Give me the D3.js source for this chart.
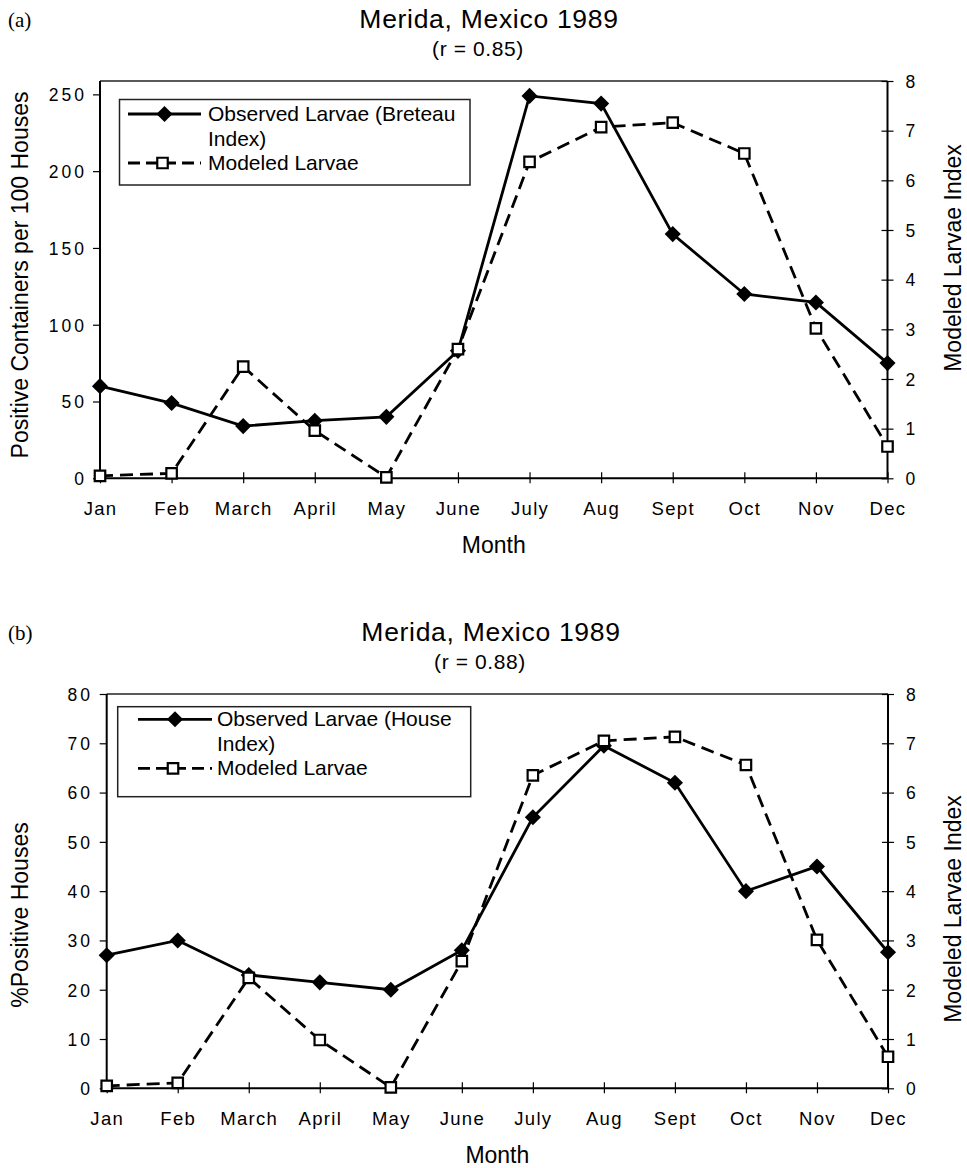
<!DOCTYPE html>
<html>
<head>
<meta charset="utf-8">
<script src="https://cdn.jsdelivr.net/npm/d3@7/dist/d3.min.js"></script>
<style>
  html, body { margin: 0; padding: 0; background: #fff; }
  svg { display: block; }
  text { font-family: "Liberation Sans", Arial, Helvetica, sans-serif; fill: #000; }
</style>
</head>
<body>
<svg id="chart" width="967" height="1168"></svg>
<script>
// ---------- DATA ----------
const months = ["Jan", "Feb", "March", "April", "May", "June", "July", "Aug", "Sept", "Oct", "Nov", "Dec"];

// Panel (a): Breteau index (left axis) and modeled larvae index (right axis)
const breteauIndex = [60, 49, 34, 37.5, 40, 83, 249, 244, 159, 120, 114.5, 75];
const modeledA = [0.05, 0.1, 2.25, 0.96, 0.02, 2.6, 6.37, 7.07, 7.16, 6.54, 3.02, 0.64];

// Panel (b): House index (left axis) and modeled larvae index (right axis)
const houseIndex = [27, 30, 23, 21.5, 20, 28, 55, 69.5, 62, 40, 45, 27.6];
const modeledB = [0.05, 0.11, 2.24, 0.98, 0.02, 2.58, 6.35, 7.05, 7.13, 6.56, 3.01, 0.64];

const leftTicksA = [0, 50, 100, 150, 200, 250];
const leftTicksB = [0, 10, 20, 30, 40, 50, 60, 70, 80];
const rightTicks = [0, 1, 2, 3, 4, 5, 6, 7, 8];

const panelLabels = ["(a)", "(b)"];
const titles = ["Merida, Mexico 1989", "Merida, Mexico 1989"];
const subtitles = ["(r = 0.85)", "(r = 0.88)"];
const leftAxisTitles = ["Positive Containers per 100 Houses", "%Positive Houses"];
const rightAxisTitle = "Modeled Larvae Index";
const xAxisTitle = "Month";
const legendObserved = [["Observed Larvae (Breteau", "Index)"], ["Observed Larvae (House", "Index)"]];
const legendModeled = "Modeled Larvae";

// ---------- DRAWING ----------
const svg = d3.select("#chart");

function drawPanel(cfg) {
  const g = svg.append("g");
  const x = d3.scalePoint().domain(months).range([cfg.left, cfg.right]);
  const yL = d3.scaleLinear().domain([0, cfg.leftMax]).range([cfg.bottom, cfg.top]);
  const yR = d3.scaleLinear().domain([0, 8]).range([cfg.bottom, cfg.top]);

  // panel label
  g.append("text").attr("x", 8).attr("y", cfg.top - 54)
    .style("font-family", "'Liberation Serif', 'Times New Roman', serif")
    .style("font-size", "21px").text(cfg.label);

  // title
  g.append("text").attr("x", cfg.titleX).attr("y", cfg.top - 53)
    .attr("text-anchor", "middle").style("font-size", "26.5px")
    .style("letter-spacing", "0.7px").text(cfg.title);
  g.append("text").attr("x", cfg.titleX - 11).attr("y", cfg.top - 25)
    .attr("text-anchor", "middle").style("font-size", "21px")
    .style("letter-spacing", "0.6px").text(cfg.subtitle);

  // frame top
  g.append("line").attr("x1", cfg.left).attr("x2", cfg.right)
    .attr("y1", cfg.top).attr("y2", cfg.top)
    .attr("stroke", "#222").attr("stroke-width", 1.5);

  // left axis
  const axL = g.append("g").attr("transform", `translate(${cfg.left},0)`)
    .call(d3.axisLeft(yL).tickValues(cfg.leftTicks).tickSizeInner(7).tickSizeOuter(0).tickPadding(10));
  axL.select(".domain").attr("stroke", "#000").attr("stroke-width", 2)
    .attr("d", `M0,${cfg.bottom}V${cfg.top}`);
  axL.selectAll(".tick line").attr("stroke", "#000").attr("stroke-width", 1.2);
  axL.selectAll(".tick text").style("font-size", "17.5px").style("letter-spacing", "3px")
    .attr("x", cfg.leftLabelX - cfg.left + 3).attr("dy", "0.36em")
    .style("font-family", "'Liberation Sans', Arial, sans-serif").attr("fill", "#000");

  // right axis
  const axR = g.append("g").attr("transform", `translate(${cfg.right},0)`)
    .call(d3.axisRight(yR).tickValues(rightTicks).tickSizeInner(6).tickSizeOuter(0).tickPadding(12));
  axR.select(".domain").attr("stroke", "#000").attr("stroke-width", 2)
    .attr("d", `M0,${cfg.bottom}V${cfg.top}`);
  axR.selectAll(".tick line").attr("x1", -6).attr("x2", 6).attr("stroke", "#000").attr("stroke-width", 1.2);
  axR.selectAll(".tick text").style("font-size", "17.5px").attr("x", 18).attr("dy", "0.36em")
    .style("font-family", "'Liberation Sans', Arial, sans-serif").attr("fill", "#000");

  // bottom axis
  const axB = g.append("g").attr("transform", `translate(0,${cfg.bottom})`)
    .call(d3.axisBottom(x).tickSizeInner(4).tickSizeOuter(0).tickPadding(10));
  axB.select(".domain").attr("stroke", "#000").attr("stroke-width", 2)
    .attr("d", `M${cfg.left},0H${cfg.right}`);
  axB.selectAll(".tick line").attr("y1", -6).attr("y2", 5).attr("stroke", "#000").attr("stroke-width", 1.2);
  axB.selectAll(".tick text").style("font-size", "18.5px").style("letter-spacing", "1.3px")
    .attr("y", 37).attr("dy", 0)
    .style("font-family", "'Liberation Sans', Arial, sans-serif").attr("fill", "#000");

  // axis titles
  g.append("text").attr("transform", `translate(${28},${cfg.leftTitleY}) rotate(-90)`)
    .attr("text-anchor", "middle").style("font-size", "23px").text(cfg.leftTitle);
  g.append("text").attr("transform", `translate(${961},${cfg.rightTitleY}) rotate(-90)`)
    .attr("text-anchor", "middle").style("font-size", "23px").text(rightAxisTitle);
  g.append("text").attr("x", (cfg.left + cfg.right) / 2).attr("y", cfg.bottom + 75)
    .attr("text-anchor", "middle").style("font-size", "23px").text(xAxisTitle);

  // lines
  const obsLine = d3.line().x((d, i) => x(months[i])).y(d => yL(d));
  const modLine = d3.line().x((d, i) => x(months[i])).y(d => yR(d));

  g.append("path").datum(cfg.modeled).attr("d", modLine)
    .attr("fill", "none").attr("stroke", "#000").attr("stroke-width", 2.8)
    .attr("stroke-dasharray", "13,7");
  g.append("path").datum(cfg.observed).attr("d", obsLine)
    .attr("fill", "none").attr("stroke", "#000").attr("stroke-width", 2.8);

  const diamond = d3.symbol(d3.symbolSquare, 130);
  const square = d3.symbol(d3.symbolSquare, 110);

  g.selectAll(".obs").data(cfg.observed).join("path")
    .attr("d", diamond)
    .attr("transform", (d, i) => `translate(${x(months[i])},${yL(d)}) rotate(45)`)
    .attr("fill", "#000");
  g.selectAll(".mod").data(cfg.modeled).join("path")
    .attr("d", square)
    .attr("transform", (d, i) => `translate(${x(months[i])},${yR(d)})`)
    .attr("fill", "#fff").attr("stroke", "#000").attr("stroke-width", 2.2);

  // legend
  const L = cfg.legend;
  g.append("rect").attr("x", L.x).attr("y", L.y).attr("width", L.w).attr("height", L.h)
    .attr("fill", "#fff").attr("stroke", "#222").attr("stroke-width", 1.5);
  g.append("line").attr("x1", L.sx1).attr("x2", L.sx2).attr("y1", L.row1).attr("y2", L.row1)
    .attr("stroke", "#000").attr("stroke-width", 2.8);
  g.append("path").attr("d", diamond)
    .attr("transform", `translate(${(L.sx1 + L.sx2) / 2},${L.row1}) rotate(45)`).attr("fill", "#000");
  g.append("line").attr("x1", L.sx1).attr("x2", L.sx2).attr("y1", L.row3).attr("y2", L.row3)
    .attr("stroke", "#000").attr("stroke-width", 2.8).attr("stroke-dasharray", "12,6");
  g.append("path").attr("d", square)
    .attr("transform", `translate(${(L.sx1 + L.sx2) / 2 - 2},${L.row3})`)
    .attr("fill", "#fff").attr("stroke", "#000").attr("stroke-width", 2.2);
  g.append("text").attr("x", L.tx).attr("y", L.row1 + 7).style("font-size", "21px").text(cfg.legendObs[0]);
  g.append("text").attr("x", L.tx).attr("y", L.row1 + 32).style("font-size", "21px").text(cfg.legendObs[1]);
  g.append("text").attr("x", L.tx).attr("y", L.row3 + 7).style("font-size", "21px").text(legendModeled);
}

drawPanel({
  label: panelLabels[0], title: titles[0], subtitle: subtitles[0], titleX: 489,
  left: 100, right: 887.5, top: 81, bottom: 478.3, leftMax: 258.7,
  leftTicks: leftTicksA, leftLabelX: 84,
  observed: breteauIndex, modeled: modeledA,
  leftTitle: leftAxisTitles[0], leftTitleY: 275, rightTitleY: 258,
  legendObs: legendObserved[0],
  legend: { x: 119.5, y: 99.5, w: 350.5, h: 85.5, sx1: 128, sx2: 201, row1: 114, row3: 163, tx: 208 }
});

drawPanel({
  label: panelLabels[1], title: titles[1], subtitle: subtitles[1], titleX: 491,
  left: 106.7, right: 888, top: 694, bottom: 1088.3, leftMax: 80,
  leftTicks: leftTicksB, leftLabelX: 90,
  observed: houseIndex, modeled: modeledB,
  leftTitle: leftAxisTitles[1], leftTitleY: 915, rightTitleY: 909,
  legendObs: legendObserved[1],
  legend: { x: 117.7, y: 706.7, w: 353, h: 90, sx1: 138, sx2: 212, row1: 719.3, row3: 768.3, tx: 217 }
});
</script>
</body>
</html>
